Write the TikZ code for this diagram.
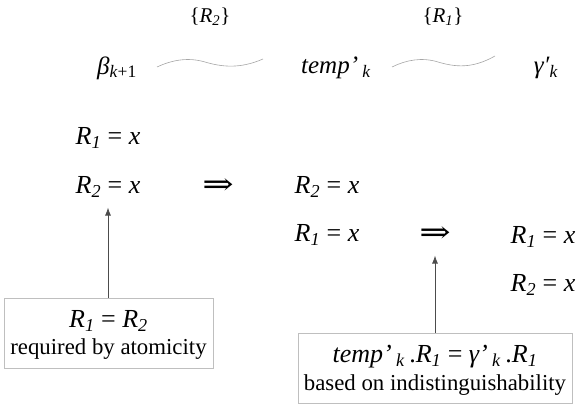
\documentclass[tikz,border=0pt]{standalone}
\usepackage{fontspec}
\usetikzlibrary{arrows.meta}
\setmainfont{Liberation Serif}
\newfontfamily\arrowfont{DejaVu Serif}
\newcommand{\sbs}[1]{\textsubscript{#1}}
\newcommand{\Ri}{\textit{R}\sbs{\textit{1}}}
\newcommand{\Rii}{\textit{R}\sbs{\textit{2}}}
\begin{document}
\begin{tikzpicture}[x=1pt,y=-1pt,
  lbl/.style={inner sep=0pt,font=\fontsize{26}{30}\selectfont},
  top/.style={inner sep=0pt,font=\fontsize{25}{30}\selectfont},
  small/.style={inner sep=0pt,font=\fontsize{21}{25}\selectfont},
  notetxt/.style={inner sep=0pt,font=\fontsize{22.8}{26}\selectfont},
  impl/.style={inner sep=0pt,font=\fontsize{30}{34}\selectfont\arrowfont},
  wave/.style={draw=gray!70,line width=0.6pt},
  note/.style={draw=gray!50,line width=0.8pt,inner sep=0pt},
  up/.style={draw=black!70,line width=0.8pt,-{Latex[length=8pt,width=6pt]}}
]
\useasboundingbox (0,0) rectangle (581,407);
% top row
\node[small] (s2) at (210,17) {\{\Rii\}};
\node[small] (s1) at (443,17) {\{\Ri\}};
\node[top] (beta) at (117,68) {\textit{β}\sbs{\textit{k}+1}};
\node[top] (temp) at (336,68) {\textit{temp’}\,\sbs{\textit{k}}};
\node[top] (gam) at (546,68) {\textit{γ′}\sbs{\textit{k}}};
\coordinate (w1a) at (157,67);
\coordinate (w1b) at (263,59);
\coordinate (w2a) at (392,67);
\coordinate (w2b) at (495,56);
\draw[wave] (w1a) .. controls (172,60) and (188,57) .. (205,62)
  .. controls (222,67) and (240,69) .. (w1b);
\draw[wave] (w2a) .. controls (406,60) and (422,57) .. (438,62)
  .. controls (455,67) and (472,69) .. (w2b);
% equations
\node[lbl] (a1) at (108,138) {\Ri{} = \textit{x}};
\node[lbl] (a2) at (108,187) {\Rii{} = \textit{x}};
\node[impl] (i1) at (218,187) {\scalebox{1.25}[1]{⇒}};
\node[lbl] (b2) at (327,187) {\Rii{} = \textit{x}};
\node[lbl] (b1) at (327,235) {\Ri{} = \textit{x}};
\node[impl] (i2) at (435,235) {\scalebox{1.25}[1]{⇒}};
\node[lbl] (c1) at (543,237) {\Ri{} = \textit{x}};
\node[lbl] (c2) at (543,285) {\Rii{} = \textit{x}};
% boxes
\node[note,minimum width=209pt,minimum height=70pt] (n1) at (108.5,333) {};
\node[lbl] (n1a) at (108.5,321) {\Ri{} = \Rii};
\node[notetxt] (n1b) at (108.5,349) {required by atomicity};
\node[note,minimum width=274pt,minimum height=70pt] (n2) at (435,368) {};
\node[lbl] (n2a) at (435,357) {\textit{temp’}\,\sbs{\textit{k}}\,.\Ri{} = \textit{γ’}\,\sbs{\textit{k}}\,.\Ri};
\node[notetxt] (n2b) at (435,385) {based on indistinguishability};
% arrows
\draw[up] (n1.north -| a2) -- ++(0,-90) coordinate (t1);
\draw[up] (n2.north -| i2) -- ++(0,-77) coordinate (t2);
\end{tikzpicture}
\end{document}
